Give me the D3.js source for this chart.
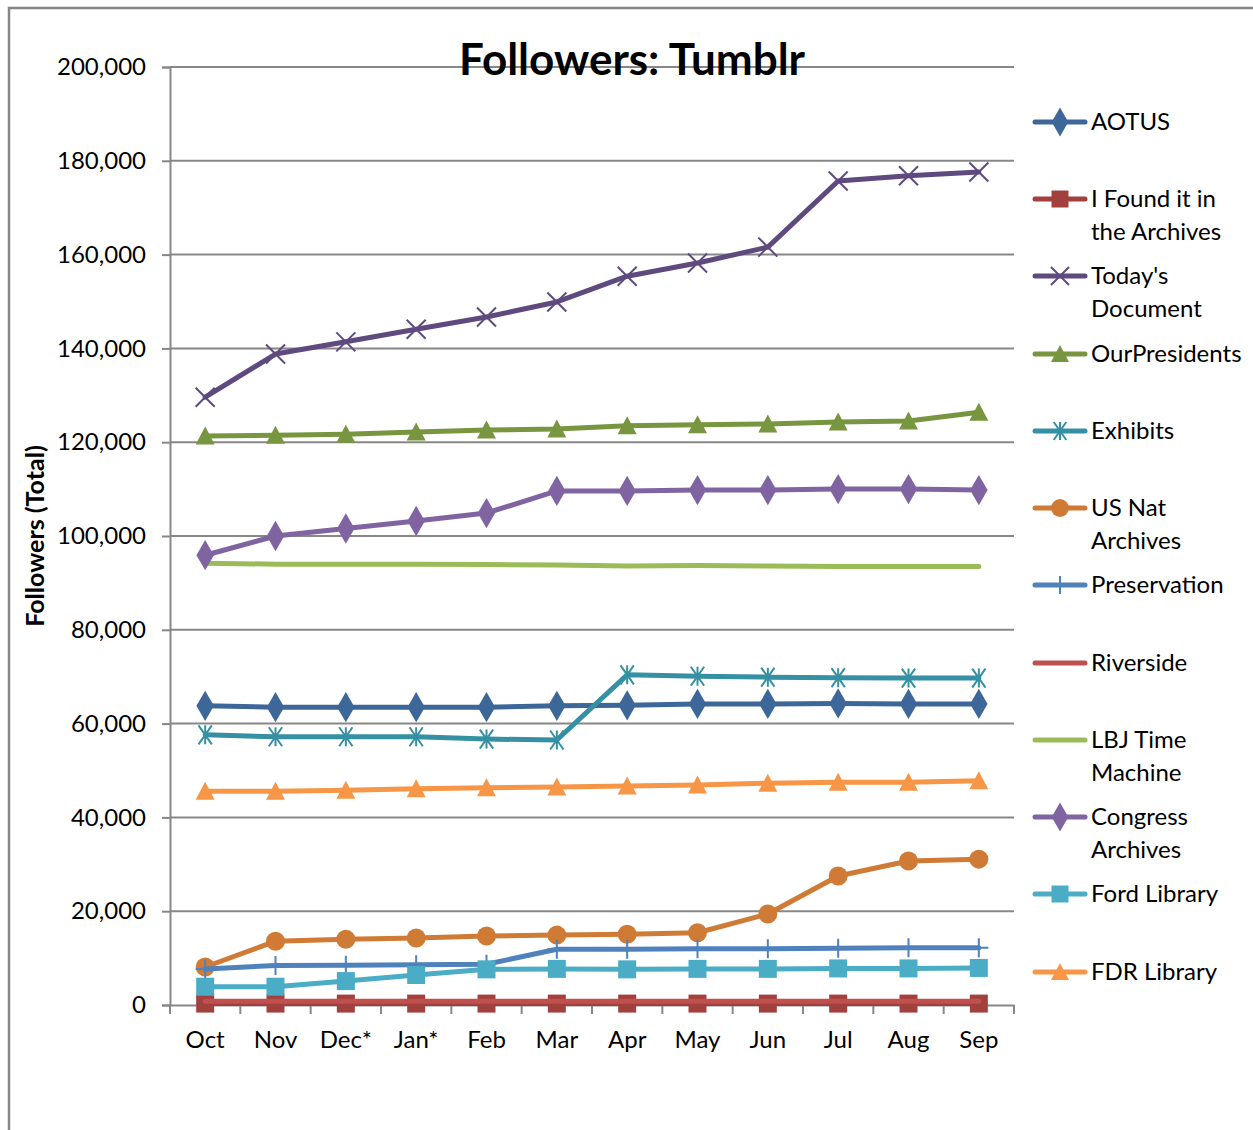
<!DOCTYPE html>
<html>
<head>
<meta charset="utf-8">
<script src="https://cdn.jsdelivr.net/npm/d3@7"></script>
<style>
  html, body { margin: 0; padding: 0; background: #fff; }
  svg { display: block; }
  text { font-family: Lato, "Open Sans", sans-serif; fill: #000; }
</style>
</head>
<body>
<svg id="chart" width="1253" height="1130"></svg>
<script>
const months = ["Oct", "Nov", "Dec*", "Jan*", "Feb", "Mar", "Apr", "May", "Jun", "Jul", "Aug", "Sep"];
const yTicks = [0, 20000, 40000, 60000, 80000, 100000, 120000, 140000, 160000, 180000, 200000];

const seriesNames = ["AOTUS", "I Found it in the Archives", "Today's Document", "OurPresidents", "Exhibits",
  "US Nat Archives", "Preservation", "Riverside", "LBJ Time Machine", "Congress Archives", "Ford Library", "FDR Library"];

const aotus          = [63800, 63500, 63500, 63500, 63500, 63800, 63900, 64200, 64200, 64300, 64200, 64200];
const iFoundIt       = [300, 300, 300, 300, 300, 300, 300, 300, 300, 300, 300, 300];
const todaysDocument = [129600, 138800, 141400, 144100, 146700, 149900, 155400, 158200, 161600, 175700, 176800, 177600];
const ourPresidents  = [121300, 121500, 121700, 122200, 122600, 122800, 123500, 123700, 123900, 124300, 124500, 126400];
const exhibits       = [57600, 57200, 57200, 57200, 56700, 56500, 70400, 70100, 69900, 69800, 69700, 69700];
const usNatArchives  = [8100, 13600, 14000, 14300, 14700, 14900, 15100, 15400, 19400, 27500, 30700, 31100];
const preservation   = [7700, 8400, 8500, 8600, 8700, 11900, 11900, 12000, 12000, 12100, 12200, 12200];
const riverside      = [800, 800, 800, 800, 800, 800, 800, 800, 800, 800, 800, 800];
const lbjTimeMachine = [94200, 94000, 94000, 94000, 93900, 93800, 93600, 93700, 93600, 93500, 93500, 93500];
const congressArchives = [95900, 100000, 101600, 103200, 104900, 109600, 109600, 109800, 109800, 110000, 110000, 109800];
const fordLibrary    = [3900, 3900, 5100, 6400, 7600, 7700, 7600, 7700, 7700, 7800, 7800, 7900];
const fdrLibrary     = [45600, 45600, 45800, 46100, 46300, 46500, 46700, 46900, 47300, 47500, 47500, 47800];

const seriesValues = [aotus, iFoundIt, todaysDocument, ourPresidents, exhibits, usNatArchives,
  preservation, riverside, lbjTimeMachine, congressArchives, fordLibrary, fdrLibrary];
const seriesColors = ["#3D6699", "#A2403D", "#5F4A7F", "#77963F", "#3590A3", "#D07B35",
  "#4F81BD", "#C0504D", "#9BBB59", "#8064A2", "#4BACC6", "#F79646"];
const seriesMarkers = ["diamond", "square", "x", "triangle", "asterisk", "circle",
  "plus", "none", "none", "diamond", "square", "triangle"];
const legendLines = [["AOTUS"], ["I Found it in", "the Archives"], ["Today's", "Document"], ["OurPresidents"],
  ["Exhibits"], ["US Nat", "Archives"], ["Preservation"], ["Riverside"], ["LBJ Time", "Machine"],
  ["Congress", "Archives"], ["Ford Library"], ["FDR Library"]];

const svg = d3.select("#chart");
const W = 1253, H = 1130;
const plot = { left: 170, right: 1014, top: 67, bottom: 1005 };

// outer frame
svg.append("path")
  .attr("d", `M9,${H} L9,8 L${W},8`)
  .attr("fill", "none").attr("stroke", "#868686").attr("stroke-width", 2.5);

const x = d3.scaleBand().domain(months).range([plot.left, plot.right]).paddingInner(0).paddingOuter(0);
const y = d3.scaleLinear().domain([0, 200000]).range([plot.bottom, plot.top]);
const xc = m => x(m) + x.bandwidth() / 2;

// gridlines
svg.append("g").selectAll("line").data(yTicks.filter(t => t > 0)).join("line")
  .attr("x1", plot.left).attr("x2", plot.right)
  .attr("y1", d => y(d)).attr("y2", d => y(d))
  .attr("stroke", "#878787").attr("stroke-width", 2);

// y axis
const yAxis = d3.axisLeft(y).tickValues(yTicks).tickSize(8).tickPadding(16)
  .tickFormat(d3.format(","));
const gy = svg.append("g").attr("transform", `translate(${plot.left},0)`).call(yAxis);
gy.select(".domain").attr("stroke", "#878787").attr("stroke-width", 2);
gy.selectAll(".tick line").attr("stroke", "#878787").attr("stroke-width", 2);
gy.selectAll(".tick text").attr("font-size", 24).attr("font-family", "Lato").attr("fill", "#000");

// x axis
const xAxis = d3.axisBottom(x).tickSize(0).tickPadding(26);
const gx = svg.append("g").attr("transform", `translate(0,${plot.bottom})`).call(xAxis);
gx.select(".domain").attr("stroke", "#878787").attr("stroke-width", 2);
gx.selectAll(".tick text").attr("font-size", 24).attr("font-family", "Lato").attr("fill", "#000");
// x tick marks at category boundaries
const boundaries = months.map(m => x(m)).concat([x(months[months.length - 1]) + x.bandwidth()]);
gx.append("g").selectAll("line").data(boundaries).join("line")
  .attr("x1", d => d).attr("x2", d => d).attr("y1", 0).attr("y2", 9)
  .attr("stroke", "#878787").attr("stroke-width", 2);

// marker shapes
function markerPath(type, s) {
  const h = s / 2;
  switch (type) {
    case "diamond": return d3.symbol(d3.symbolDiamond, s * s * 0.6)();
    case "square": return `M${-h},${-h}H${h}V${h}H${-h}Z`;
    case "circle": return d3.symbol(d3.symbolCircle, Math.PI * h * h)();
    case "triangle": return `M0,${-h - 1}L${h + 1},${h}L${-h - 1},${h}Z`;
    case "x": return `M${-h},${-h}L${h},${h}M${-h},${h}L${h},${-h}`;
    case "asterisk": return `M${-h * 0.7},${-h}L${h * 0.7},${h}M${-h * 0.7},${h}L${h * 0.7},${-h}M0,${-h}L0,${h}`;
    case "plus": return `M0,${-h}L0,${h}M${-h},0L${h},0`;
  }
  return "";
}
const strokeMarkers = new Set(["x", "asterisk", "plus"]);
const markerSize = { diamond: 21, square: 18, circle: 19, triangle: 17, x: 19, asterisk: 19, plus: 19 };

const line = d3.line().x((d, i) => xc(months[i])).y(d => y(d));

const gSeries = svg.append("g");
seriesValues.forEach((vals, si) => {
  const g = gSeries.append("g");
  g.append("path").datum(vals).attr("d", line)
    .attr("fill", "none").attr("stroke", seriesColors[si]).attr("stroke-width", 5)
    .attr("stroke-linejoin", "round").attr("stroke-linecap", "round");
  const mk = seriesMarkers[si];
  if (mk !== "none") {
    const sw = strokeMarkers.has(mk);
    g.selectAll("path.mk").data(vals).join("path").attr("class", "mk")
      .attr("transform", (d, i) => `translate(${xc(months[i])},${y(d)})`)
      .attr("d", markerPath(mk, markerSize[mk]))
      .attr("fill", sw ? "none" : seriesColors[si])
      .attr("stroke", seriesColors[si]).attr("stroke-width", sw ? 2 : 0);
  }
});

// title
svg.append("text").attr("x", 632).attr("y", 75).attr("text-anchor", "middle")
  .attr("font-size", 44).attr("font-weight", "bold").text("Followers: Tumblr");

// y axis title
svg.append("text").attr("transform", "translate(44,536) rotate(-90)").attr("text-anchor", "middle")
  .attr("font-size", 25).attr("font-weight", "bold").text("Followers (Total)");

// legend
const legendY = [122, 199, 276, 354, 431, 508, 585, 663, 740, 817, 894, 972];
const lg = svg.append("g");
seriesNames.forEach((name, si) => {
  const g = lg.append("g").attr("transform", `translate(0,${legendY[si]})`);
  g.append("line").attr("x1", 1035).attr("x2", 1085).attr("y1", 0).attr("y2", 0)
    .attr("stroke", seriesColors[si]).attr("stroke-width", 5).attr("stroke-linecap", "round");
  const mk = seriesMarkers[si];
  if (mk !== "none") {
    const sw = strokeMarkers.has(mk);
    g.append("path").attr("transform", "translate(1060,0)")
      .attr("d", markerPath(mk, markerSize[mk] - 1))
      .attr("fill", sw ? "none" : seriesColors[si])
      .attr("stroke", seriesColors[si]).attr("stroke-width", sw ? 2 : 0);
  }
  const t = g.append("text").attr("x", 1091).attr("y", 8).attr("font-size", 24);
  legendLines[si].forEach((ln, li) => {
    t.append("tspan").attr("x", 1091).attr("dy", li === 0 ? 0 : 33).text(ln);
  });
});
</script>
</body>
</html>
